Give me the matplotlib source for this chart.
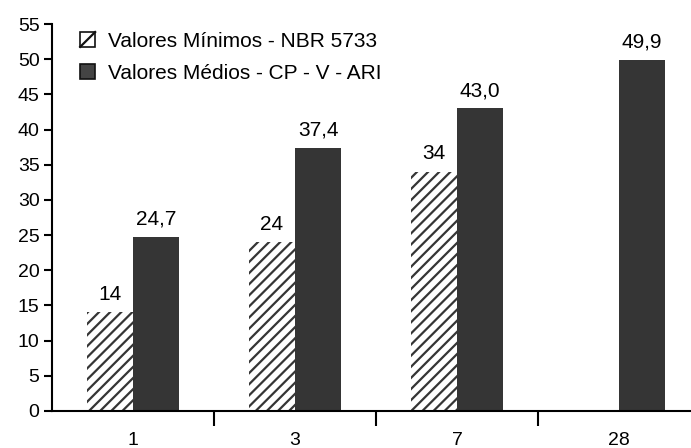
import numpy as np
import matplotlib.pyplot as plt
from matplotlib.patches import Patch, Rectangle
from matplotlib.lines import Line2D
from matplotlib.legend_handler import HandlerPatch

plt.rcParams['font.family'] = ['Liberation Sans', 'DejaVu Sans']
plt.rcParams['hatch.linewidth'] = 1.6

# idade (dias) e resistencia (MPa)
dias = ['1', '3', '7', '28']
minimos = [14, 24, 34, np.nan]
medios = [24.7, 37.4, 43.0, 49.9]
rot_min = ['14', '24', '34', '']
rot_med = ['24,7', '37,4', '43,0', '49,9']

fs = 14
fs_txt = 15


class QuadradoDiagonal(HandlerPatch):
    # quadrado branco com uma diagonal, simbolo da serie hachurada
    def create_artists(self, legend, orig_handle, xdescent, ydescent,
                       width, height, fontsize, trans):
        r = Rectangle((-xdescent, -ydescent), width, height, facecolor='white',
                      edgecolor='#111111', linewidth=1.2, transform=trans)
        ln = Line2D([-xdescent, -xdescent + width], [-ydescent, -ydescent + height],
                    color='#111111', linewidth=1.6, transform=trans)
        return [r, ln]


fig = plt.figure(figsize=(6.91, 4.48), dpi=100)
ax = fig.add_axes([0.0753, 0.0826, 0.9247, 0.8638])

x = np.arange(len(dias))
w = 0.285
cor = '#353535'

ax.bar(x - w / 2, minimos, w, color='white', edgecolor=cor, hatch='///', linewidth=0)
ax.bar(x + w / 2, medios, w, color=cor, linewidth=0)

for i in range(len(dias)):
    if not np.isnan(minimos[i]):
        ax.annotate(rot_min[i], (x[i] - w / 2, minimos[i]), xytext=(0, 6),
                    textcoords='offset points', ha='center', va='bottom', fontsize=fs_txt)
    ax.annotate(rot_med[i], (x[i] + w / 2, medios[i]), xytext=(0, 6),
                textcoords='offset points', ha='center', va='bottom', fontsize=fs_txt)

ax.set_xlim(-0.5, 3.445)
ax.set_ylim(0, 55)
ax.set_yticks(np.arange(0, 56, 5))
ax.set_xticks(x)
ax.set_xticklabels(dias)
ax.set_xticks([0.5, 1.5, 2.5], minor=True)
ax.tick_params(axis='x', which='major', length=0, pad=15, labelsize=fs)
ax.tick_params(axis='x', which='minor', length=11, width=1.5, direction='out')
ax.tick_params(axis='y', length=6, width=1.5, pad=3, labelsize=fs)

for s in ['top', 'right']:
    ax.spines[s].set_visible(False)
for s in ['left', 'bottom']:
    ax.spines[s].set_linewidth(1.5)

h_min = Patch(facecolor='white', edgecolor='#111111')
h_med = Patch(facecolor='#444444', edgecolor='#111111', linewidth=1.2)
ax.legend([h_min, h_med], ['Valores Mínimos - NBR 5733', 'Valores Médios - CP - V - ARI'],
          handler_map={h_min: QuadradoDiagonal()},
          loc='upper left', bbox_to_anchor=(0.044, 0.98), frameon=False, fontsize=fs_txt,
          borderpad=0, borderaxespad=0,
          handlelength=0.72, handleheight=0.72, handletextpad=0.6, labelspacing=0.62)

fig.savefig('out.png', dpi=100)
